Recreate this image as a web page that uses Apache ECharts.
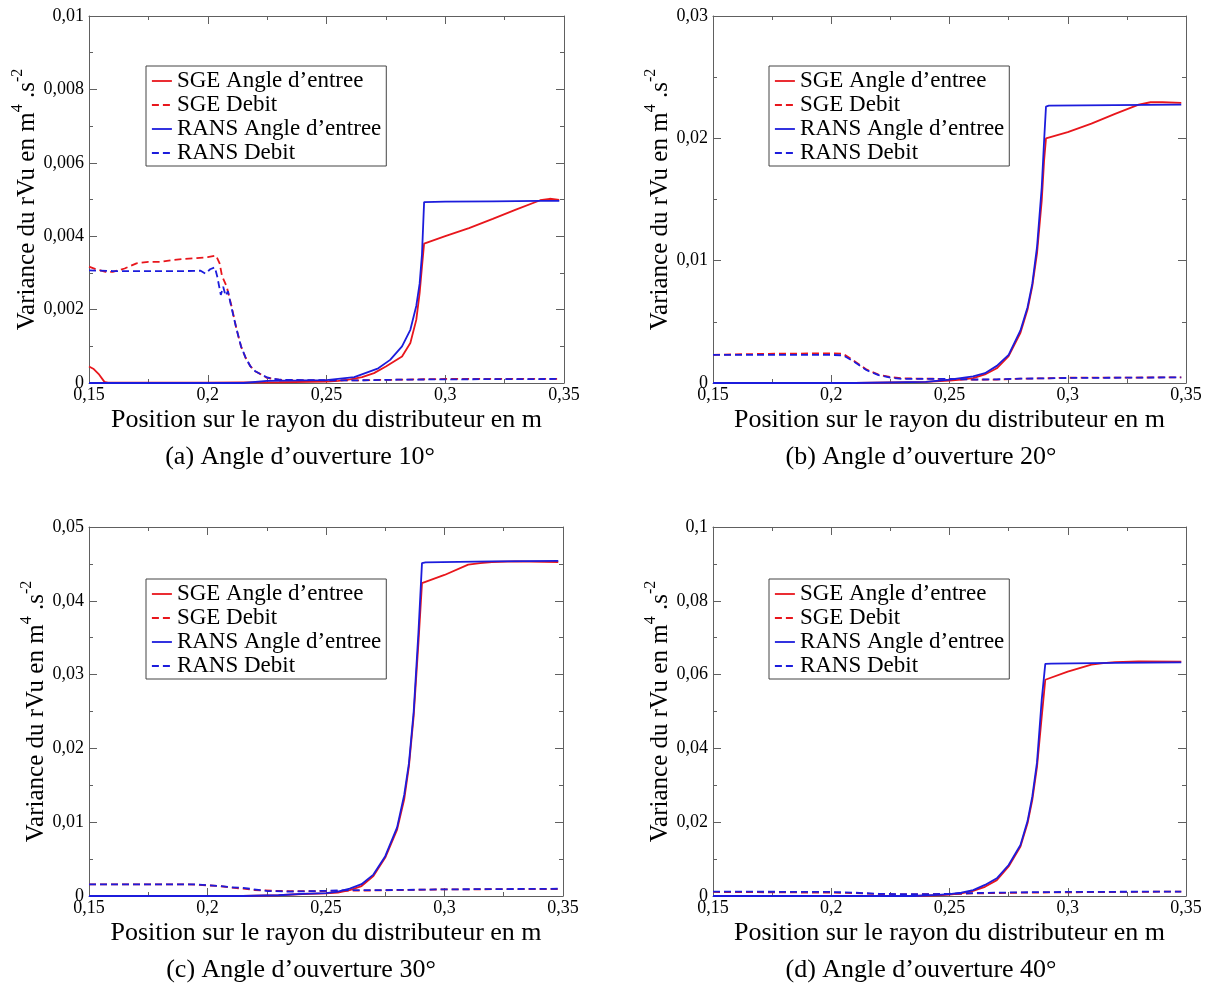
<!DOCTYPE html>
<html>
<head>
<meta charset="utf-8">
<script src="https://cdn.jsdelivr.net/npm/echarts@6/dist/echarts.min.js"></script>
<style>
html,body{margin:0;padding:0;background:#fff;}
#chart{width:1210px;height:985px;}
</style>
</head>
<body>
<div id="chart"></div>
<script>
// ---------- DATA ----------
const seriesNames = ['SGE Angle d\u2019entree', 'SGE Debit', 'RANS Angle d\u2019entree', 'RANS Debit'];
const captions = ['(a) Angle d\u2019ouverture 10\u00b0', '(b) Angle d\u2019ouverture 20\u00b0', '(c) Angle d\u2019ouverture 30\u00b0', '(d) Angle d\u2019ouverture 40\u00b0'];
const xTitle = 'Position sur le rayon du distributeur en m';
const xMin = 0.15, xMax = 0.35, xStep = 0.05;
const yMaxs = [0.01, 0.03, 0.05, 0.1];
const yStepsList = [0.002, 0.01, 0.01, 0.02];

// Panel (a) – 10°
const a_sgeAngle_x = [0.150,0.152,0.154,0.1565,0.158,0.170,0.200,0.230,0.250,0.255,0.260,0.265,0.270,0.275,0.2818,0.2853,0.2878,0.2892,0.2902,0.2911,0.300,0.310,0.320,0.330,0.340,0.344,0.348];
const a_sgeAngle_y = [0.00045,0.00038,0.00025,0.00003,0.00001,0.00001,0.00001,0.00002,0.00004,0.00006,0.00010,0.00016,0.00027,0.00045,0.00072,0.00109,0.00172,0.00244,0.00317,0.00380,0.00400,0.00422,0.00447,0.00473,0.00498,0.00502,0.00499];
const a_sgeDebit_x = [0.150,0.153,0.157,0.160,0.165,0.170,0.175,0.180,0.185,0.190,0.195,0.200,0.2035,0.205,0.206,0.208,0.210,0.212,0.214,0.216,0.218,0.220,0.225,0.230,0.240,0.260,0.280,0.300,0.348];
const a_sgeDebit_y = [0.00317,0.00310,0.00303,0.00303,0.00312,0.00326,0.00330,0.00330,0.00335,0.00338,0.00340,0.00343,0.00347,0.00326,0.00292,0.00262,0.00210,0.00150,0.00100,0.00068,0.00045,0.00032,0.00014,0.00009,0.00007,0.00007,0.00009,0.00011,0.00011];
const a_ransAngle_x = [0.150,0.215,0.225,0.240,0.250,0.2617,0.2718,0.2768,0.2818,0.2853,0.2878,0.2892,0.2902,0.2911,0.300,0.320,0.340,0.348];
const a_ransAngle_y = [0,0,0.00006,0.00007,0.00008,0.00016,0.00040,0.00063,0.00100,0.00145,0.00210,0.00270,0.00350,0.00493,0.00494,0.00495,0.00496,0.00496];
const a_ransDebit_x = [0.150,0.160,0.170,0.180,0.190,0.197,0.199,0.201,0.203,0.204,0.2055,0.2065,0.2075,0.2085,0.210,0.212,0.214,0.216,0.218,0.220,0.225,0.230,0.240,0.260,0.280,0.300,0.348];
const a_ransDebit_y = [0.00307,0.00305,0.00305,0.00305,0.00305,0.00306,0.00298,0.00310,0.00315,0.00290,0.00240,0.00262,0.00238,0.00250,0.00205,0.00150,0.00100,0.00068,0.00045,0.00032,0.00015,0.00009,0.00008,0.00007,0.00009,0.00010,0.00011];

// Panel (b) – 20°
const b_sgeAngle_x = [0.150,0.210,0.240,0.250,0.255,0.260,0.265,0.270,0.275,0.280,0.283,0.285,0.287,0.289,0.290,0.2908,0.300,0.310,0.320,0.330,0.335,0.340,0.348];
const b_sgeAngle_y = [0,0,0.0001,0.0002,0.00027,0.0004,0.0007,0.0012,0.0022,0.0041,0.0060,0.0079,0.0106,0.0149,0.0182,0.0200,0.0205,0.0212,0.0220,0.02275,0.02295,0.02295,0.0229];
const b_sgeDebit_x = [0.150,0.170,0.200,0.205,0.210,0.215,0.220,0.225,0.230,0.250,0.260,0.270,0.280,0.290,0.300,0.320,0.348];
const b_sgeDebit_y = [0.0023,0.00238,0.00243,0.00240,0.00176,0.00109,0.00068,0.00049,0.00038,0.00033,0.00028,0.00028,0.00035,0.00038,0.00043,0.00044,0.00046];
const b_ransAngle_x = [0.150,0.210,0.240,0.250,0.260,0.265,0.270,0.275,0.280,0.283,0.285,0.287,0.289,0.290,0.2908,0.292,0.320,0.348];
const b_ransAngle_y = [0,0,0.0001,0.00027,0.00054,0.0008,0.0014,0.0023,0.0043,0.0062,0.0081,0.0111,0.0160,0.0198,0.0226,0.02267,0.02272,0.02275];
const b_ransDebit_x = [0.150,0.170,0.200,0.205,0.210,0.215,0.220,0.225,0.230,0.250,0.260,0.270,0.280,0.300,0.348];
const b_ransDebit_y = [0.0023,0.0023,0.0023,0.00226,0.0017,0.00104,0.00065,0.00043,0.00033,0.00033,0.00028,0.00030,0.00035,0.00041,0.00046];

// Panel (c) – 30°
const c_sgeAngle_x = [0.150,0.215,0.230,0.240,0.250,0.255,0.260,0.265,0.270,0.275,0.280,0.283,0.285,0.287,0.289,0.2905,0.300,0.310,0.315,0.320,0.330,0.348];
const c_sgeAngle_y = [0,0,0.0001,0.00027,0.00036,0.00045,0.0008,0.00135,0.0027,0.0052,0.0090,0.0131,0.0176,0.0244,0.0343,0.0424,0.0435,0.0449,0.0451,0.04526,0.04535,0.04526];
const c_sgeDebit_x = [0.150,0.190,0.195,0.200,0.205,0.210,0.215,0.220,0.230,0.240,0.250,0.260,0.270,0.280,0.300,0.348];
const c_sgeDebit_y = [0.00158,0.00158,0.00155,0.00144,0.00135,0.00113,0.00100,0.00080,0.00068,0.00066,0.00068,0.00072,0.00075,0.0008,0.0009,0.00095];
const c_ransAngle_x = [0.150,0.215,0.230,0.240,0.250,0.255,0.260,0.265,0.270,0.275,0.280,0.283,0.285,0.287,0.289,0.2905,0.292,0.320,0.348];
const c_ransAngle_y = [0,0,0.0001,0.0003,0.0004,0.0006,0.0010,0.0016,0.0029,0.0054,0.0093,0.0137,0.0180,0.0250,0.0357,0.0451,0.04522,0.04535,0.0454];
const c_ransDebit_x = [0.150,0.195,0.200,0.205,0.210,0.215,0.225,0.235,0.250,0.260,0.275,0.300,0.348];
const c_ransDebit_y = [0.00158,0.00158,0.00145,0.00136,0.00118,0.00110,0.00068,0.00060,0.00070,0.00080,0.00080,0.00090,0.00098];

// Panel (d) – 40°
const d_sgeAngle_x = [0.150,0.235,0.245,0.250,0.255,0.260,0.265,0.270,0.275,0.280,0.283,0.285,0.287,0.289,0.2905,0.300,0.310,0.315,0.320,0.330,0.348];
const d_sgeAngle_y = [0,0,0.0002,0.0004,0.0007,0.0014,0.0025,0.0043,0.0080,0.0134,0.0197,0.0260,0.0350,0.0486,0.0586,0.0608,0.0627,0.0631,0.0634,0.0636,0.0635];
const d_sgeDebit_x = [0.150,0.200,0.210,0.220,0.230,0.240,0.250,0.260,0.280,0.300,0.348];
const d_sgeDebit_y = [0.0011,0.0009,0.0008,0.0005,0.0004,0.0005,0.0005,0.0007,0.0009,0.0010,0.0012];
const d_ransAngle_x = [0.150,0.235,0.245,0.250,0.255,0.260,0.265,0.270,0.275,0.280,0.283,0.285,0.287,0.289,0.2905,0.293,0.320,0.348];
const d_ransAngle_y = [0,0,0.0003,0.0005,0.0009,0.0016,0.0030,0.0048,0.0084,0.0138,0.0203,0.0269,0.0362,0.0532,0.0629,0.0630,0.0632,0.0633];
const d_ransDebit_x = [0.150,0.200,0.210,0.220,0.230,0.240,0.250,0.260,0.280,0.300,0.348];
const d_ransDebit_y = [0.0012,0.0011,0.0009,0.0006,0.0005,0.0005,0.0006,0.0008,0.0010,0.0011,0.0012];

// ---------- BUILD ----------
const pair = (xs, ys) => xs.map((x, i) => [x, ys[i]]);
const panels = [
  [[a_sgeAngle_x,a_sgeAngle_y],[a_sgeDebit_x,a_sgeDebit_y],[a_ransAngle_x,a_ransAngle_y],[a_ransDebit_x,a_ransDebit_y]],
  [[b_sgeAngle_x,b_sgeAngle_y],[b_sgeDebit_x,b_sgeDebit_y],[b_ransAngle_x,b_ransAngle_y],[b_ransDebit_x,b_ransDebit_y]],
  [[c_sgeAngle_x,c_sgeAngle_y],[c_sgeDebit_x,c_sgeDebit_y],[c_ransAngle_x,c_ransAngle_y],[c_ransDebit_x,c_ransDebit_y]],
  [[d_sgeAngle_x,d_sgeAngle_y],[d_sgeDebit_x,d_sgeDebit_y],[d_ransAngle_x,d_ransAngle_y],[d_ransDebit_x,d_ransDebit_y]]
];

const FONT = "'Liberation Serif', 'Times New Roman', serif";
const AX = '#606060';
const RED = '#e8161c', BLUE = '#1c1cdc';
const colors = [RED, RED, BLUE, BLUE];
const dashed = [false, true, false, true];
const DASH = [7, 4];
const LW = 1.8;

const grids = [
  {left: 89, top: 16, width: 475, height: 367},
  {left: 713, top: 16, width: 473, height: 367},
  {left: 89, top: 527, width: 474, height: 369},
  {left: 713, top: 527, width: 473, height: 369}
];
const yNameGaps = [43, 36, 35, 36];
const legendPos = [[146, 66], [769, 66], [146, 579], [769, 579]];
const captionPos = [[300, 457], [921, 457], [301, 970], [921, 970]];

const fmt = v => String(+(+v).toFixed(6)).replace('.', ',');

const xAxes = [], yAxes = [], series = [], legends = [], graphics = [];
grids.forEach((g, i) => {
  const common = {
    gridIndex: i, type: 'value',
    axisLine: {show: true, onZero: false, lineStyle: {color: AX, width: 1}},
    axisTick: {show: true, inside: true, length: 8, lineStyle: {color: AX, width: 1}},
    minorTick: {show: true, splitNumber: 2, length: 4, lineStyle: {color: AX, width: 1}},
    splitLine: {show: false}
  };
  xAxes.push(Object.assign({}, common, {
    position: 'bottom', min: xMin, max: xMax, interval: xStep,
    axisLabel: {formatter: fmt, color: '#000', fontSize: 18, fontFamily: FONT, margin: 3},
    name: xTitle, nameLocation: 'middle', nameGap: 24,
    nameTextStyle: {fontSize: 26, fontFamily: FONT, color: '#000'}
  }));
  xAxes.push(Object.assign({}, common, {
    position: 'top', min: xMin, max: xMax, interval: xStep,
    axisLabel: {show: false}
  }));
  yAxes.push(Object.assign({}, common, {
    position: 'left', min: 0, max: yMaxs[i], interval: yStepsList[i],
    axisLabel: {formatter: fmt, color: '#000', fontSize: 18, fontFamily: FONT, margin: 5},
    name: '{m|Variance du rVu en m}{s|4}{m| .s}{s|-2}',
    nameLocation: 'middle', nameGap: yNameGaps[i],
    nameTextStyle: {
      color: '#000',
      rich: {
        m: {fontSize: 25, fontFamily: FONT, lineHeight: 25, verticalAlign: 'bottom', color: '#000'},
        s: {fontSize: 16, fontFamily: FONT, lineHeight: 16, verticalAlign: 'bottom', padding: [0, 0, 14, 0], color: '#000'}
      }
    }
  }));
  yAxes.push(Object.assign({}, common, {
    position: 'right', min: 0, max: yMaxs[i], interval: yStepsList[i],
    axisLabel: {show: false}
  }));
  panels[i].forEach((p, k) => {
    series.push({
      type: 'line', name: seriesNames[k],
      xAxisIndex: 2 * i, yAxisIndex: 2 * i,
      data: pair(p[0], p[1]),
      symbol: 'none', showSymbol: false,
      lineStyle: {color: colors[k], width: LW, type: dashed[k] ? DASH : 'solid'},
      itemStyle: {color: colors[k]},
      z: 2 + k
    });
  });
  legends.push({
    orient: 'vertical', left: legendPos[i][0], top: legendPos[i][1],
    data: seriesNames.map((n, k) => ({
      name: n,
      itemStyle: {opacity: 0, borderWidth: 0},
      lineStyle: {color: colors[k], width: LW, type: dashed[k] ? DASH : 'solid', opacity: 1}
    })),
    itemWidth: 20, itemHeight: 14, itemGap: 0,
    padding: [3, 5, 1, 5],
    borderColor: '#444', borderWidth: 1, backgroundColor: '#fff',
    selectedMode: false,
    textStyle: {fontSize: 23, fontFamily: FONT, color: '#000', lineHeight: 24}
  });
  graphics.push({
    type: 'text', x: captionPos[i][0], y: captionPos[i][1],
    style: {text: captions[i], fontSize: 26, fontFamily: FONT, fill: '#000', textAlign: 'center', textVerticalAlign: 'middle'}
  });
});

const chart = echarts.init(document.getElementById('chart'), null, {renderer: 'canvas'});
chart.setOption({
  animation: false,
  backgroundColor: '#fff',
  grid: grids,
  xAxis: xAxes,
  yAxis: yAxes,
  legend: legends,
  series: series,
  graphic: graphics
});
</script>
</body>
</html>
